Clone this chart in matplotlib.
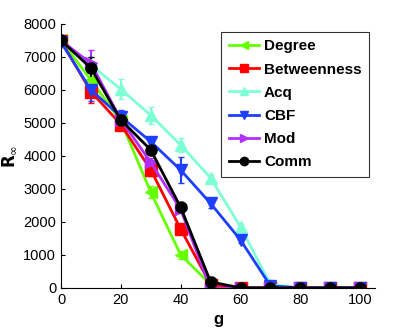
import numpy as np
import matplotlib
matplotlib.use("Agg")
import matplotlib.pyplot as plt
from matplotlib.lines import Line2D

plt.rcParams['font.family'] = ['Liberation Sans', 'DejaVu Sans']

g = [0, 10, 20, 30, 40, 50, 60, 70, 80, 90, 100]

degree = [7500, 6300, 5050, 2900, 1000, 100, 0, 0, 0, 0, 0]
betweenness = [7480, 5950, 4950, 3580, 1780, 100, 0, 0, 0, 0, 0]
acq = [7500, 6750, 6020, 5230, 4330, 3330, 1850, 100, 0, 0, 0]
cbf = [7450, 6000, 5190, 4430, 3570, 2560, 1450, 60, 0, 0, 0]
mod = [7500, 6800, 5100, 3800, 2380, -30, 0, 0, 0, 0, 0]
comm = [7500, 6660, 5090, 4180, 2440, 180, 0, 0, 0, 0, 0]

degree_err = [60, 250, 150, 180, 120, 40, 20, 0, 0, 0, 0]
betweenness_err = [60, 350, 150, 180, 150, 40, 20, 0, 0, 0, 0]
acq_err = [60, 250, 300, 250, 200, 80, 50, 20, 0, 0, 0]
cbf_err = [60, 350, 200, 150, 400, 150, 80, 20, 0, 0, 0]
mod_err = [60, 400, 150, 150, 100, 40, 20, 0, 0, 0, 0]
comm_err = [60, 350, 250, 150, 100, 40, 20, 0, 0, 0, 0]

labels = ['Degree', 'Betweenness', 'Acq', 'CBF', 'Mod', 'Comm']
series = [degree, betweenness, acq, cbf, mod, comm]
errors = [degree_err, betweenness_err, acq_err, cbf_err, mod_err, comm_err]
colors = ['#66ff00', '#ff0000', '#7fffd4', '#1f3fff', '#b030ff', '#000000']
markers = ['<', 's', '^', 'v', '>', 'o']

fig = plt.figure(figsize=(4.15, 3.32), dpi=100)
ax = fig.add_axes([0.147, 0.133, 0.757, 0.795])

handles = []
for vals, err, lab, c, m in zip(series, errors, labels, colors, markers):
    ax.errorbar(g, vals, yerr=err, color=c, marker=m, markersize=8,
                linewidth=2, elinewidth=1.5, capsize=2.5)
    handles.append(Line2D([], [], color=c, marker=m, markersize=6,
                          linewidth=2, label=lab))

ax.set_xlim(0, 105)
ax.set_ylim(0, 8000)
ax.set_xticks(range(0, 101, 20))
ax.set_yticks(range(0, 8001, 1000))
ax.tick_params(direction='in', labelsize=10.5, length=3)
ax.spines['top'].set_visible(False)
ax.spines['right'].set_visible(False)
ax.set_xlabel('g', fontsize=12, fontweight='bold')
ax.set_ylabel(r'$\mathbf{R}_{\infty}$', fontsize=12)

leg = ax.legend(handles=handles, loc='upper right',
                bbox_to_anchor=(0.981, 0.97),
                prop={'weight': 'bold', 'size': 11}, fancybox=False,
                edgecolor='black', handlelength=2.0, labelspacing=0.6,
                borderpad=0.5, handletextpad=0.3, borderaxespad=0)
leg.get_frame().set_linewidth(0.8)

fig.savefig('out.png', dpi=100)
